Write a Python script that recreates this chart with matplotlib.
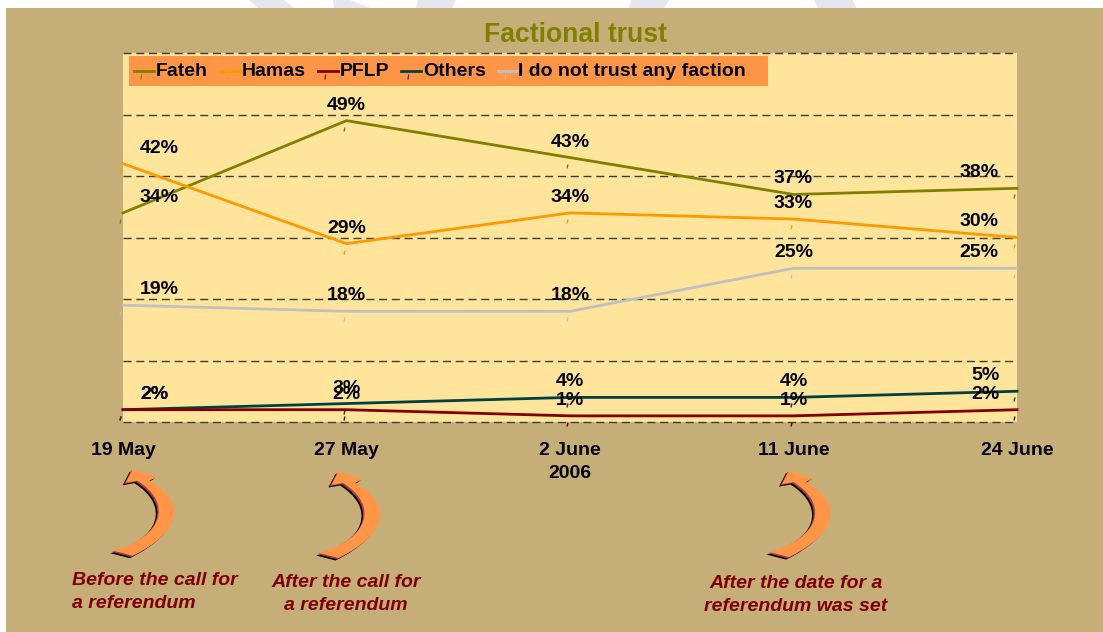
import numpy as np
import matplotlib
matplotlib.use("Agg")
import matplotlib.pyplot as plt
from matplotlib.patches import Polygon, Rectangle, PathPatch
from matplotlib.path import Path
from matplotlib.lines import Line2D
from matplotlib.transforms import Affine2D

plt.rcParams['font.family'] = ['Liberation Sans', 'DejaVu Sans']

W, H = 1103, 632

dates = ["19 May", "27 May", "2 June\n2006", "11 June", "24 June"]
series_names = ["Fateh", "Hamas", "PFLP", "Others", "I do not trust any faction"]
fateh = [34, 49, 43, 37, 38]
hamas = [42, 29, 34, 33, 30]
pflp = [2, 2, 1, 1, 2]
others = [2, 3, 4, 4, 5]
no_trust = [19, 18, 18, 25, 25]
series = [fateh, hamas, pflp, others, no_trust]
colors = ["#808000", "#FF9900", "#800000", "#004040", "#C0C0C0"]
notes = ["Before the call for\na referendum", "After the call for\na referendum",
         "After the date for a\nreferendum was set"]

BG = "#C6AE79"
PLOT_BG = "#FFE49C"
ORANGE = "#FF9647"

fig = plt.figure(figsize=(W / 100, H / 100), dpi=100, facecolor="white")

# background layer in pixels: panel and the faint watermark above it
back = fig.add_axes([0, 0, 1, 1], zorder=0)
back.set_xlim(0, W)
back.set_ylim(H, 0)
back.axis("off")
back.add_patch(Rectangle((6, 8), W - 6, H - 8, fc=BG, ec="none"))
for pts in [[(249, 0), (284, 0), (294, 8), (258, 8)],
            [(333, 0), (350, 0), (370, 8), (334, 8)],
            [(418, 0), (456, 0), (452, 8), (416, 8)],
            [(631, 0), (669, 0), (664, 8), (629, 8)],
            [(814, 0), (853, 0), (856, 8), (818, 8)]]:
    back.add_patch(Polygon(pts, fc="#E6E6F0", ec="none"))

ax = fig.add_axes([123 / W, 1 - 422 / H, (1017 - 123) / W, 369 / H], zorder=1)
ax.set_facecolor(PLOT_BG)
x = np.arange(len(dates))
ax.set_xlim(0, 4)
ax.set_ylim(0, 60)
ax.set_yticks(np.arange(0, 61, 10))
ax.set_xticks([])
ax.tick_params(left=False, labelleft=False)
for s in ax.spines.values():
    s.set_visible(False)
ax.grid(axis="y", color="#3c3c3c", linestyle=(0, (5.8, 3.4)), linewidth=1)
for g in ax.yaxis.get_gridlines():
    g.set_clip_on(False)
ax.set_axisbelow(True)

# the small slanted tick that sits under every point
tick_mark = Path([(-3.4, -10), (-2.6, -6)], [Path.MOVETO, Path.LINETO])

for vals, c in zip(series, colors):
    z = 4 if c == "#800000" else 3
    ax.plot(x, vals, color=c, linewidth=2, clip_on=False, zorder=z, solid_joinstyle="miter")
    ax.plot(x, vals, linestyle="none", marker=tick_mark, markersize=14.4, markerfacecolor="none",
            markeredgecolor=c, markeredgewidth=1, clip_on=False, zorder=z)

# data labels sit about 16 px above the point, the end ones are pushed inwards
for vals in series:
    for i, v in enumerate(vals):
        dx = 0
        if i == 0:
            dx = 36 if v >= 10 else 31
        if i == 4:
            dx = -38 if v >= 10 else -32
        ax.annotate(f"{v}%", xy=(i, v), xytext=(dx * 0.72, 15.5 * 0.72), textcoords="offset points",
                    ha="center", va="center", fontsize=14, fontweight="bold", color="black",
                    zorder=5, annotation_clip=False)

for xi, d in zip(x, dates):
    ax.annotate(d, xy=(xi, 0), xytext=(0, -14.5), textcoords="offset points", ha="center",
                va="top", fontsize=14, fontweight="bold", color="black",
                annotation_clip=False, linespacing=1.45)

# top layer in pixels: legend box, title, arrows and notes
over = fig.add_axes([0, 0, 1, 1], zorder=2)
over.set_xlim(0, W)
over.set_ylim(H, 0)
over.axis("off")
over.patch.set_visible(False)

over.add_patch(Rectangle((129, 56), 639, 30, fc=ORANGE, ec="none"))
leg_line_x = [(134, 154), (221, 240), (318, 338), (401, 421), (498, 517)]
leg_text_x = [156, 242, 340, 423, 518]
for (x0, x1), tx, name, c in zip(leg_line_x, leg_text_x, series_names, colors):
    over.add_line(Line2D([x0, x1], [71, 71], color=c, linewidth=2))
    over.add_line(Line2D([x0 + 7, x0 + 7.6], [79, 75], color=c, linewidth=0.8))
    over.text(tx, 72, name, ha="left", va="center", fontsize=14, fontweight="bold", color="black")

over.text(575, 35, "Factional trust", ha="center", va="center", fontsize=19.2,
          fontweight="bold", color="#808000")

# curved arrow outline, drawn three times with a shadow
arrow_verts = [(132.7, 469.3), (156.7, 476.7), (149.3, 480.7),
               (185, 500), (185, 530), (132.7, 555.7),
               (113.3, 550.7),
               (163.3, 536.7), (173.3, 503.3), (137.3, 480.7),
               (125.7, 482.7), (132.7, 469.3)]
arrow_codes = [Path.MOVETO, Path.LINETO, Path.LINETO,
               Path.CURVE4, Path.CURVE4, Path.CURVE4,
               Path.LINETO,
               Path.CURVE4, Path.CURVE4, Path.CURVE4,
               Path.LINETO, Path.CLOSEPOLY]
arrow = Path(arrow_verts, arrow_codes)
for dx, dy in [(0, 0), (205.7, 2.3), (656.3, 1.4)]:
    for sx, sy, fc in [(-3, 2.5, "black"), (-1.5, 1.2, "#B03A40"), (0, 0, ORANGE)]:
        tr = Affine2D().translate(dx + sx, dy + sy) + over.transData
        over.add_patch(PathPatch(arrow, fc=fc, ec="none", transform=tr))

note_pos = [(72, 592, "left"), (346, 594, "center"), (796, 595, "center")]
for (tx, ty, ha), n in zip(note_pos, notes):
    over.text(tx, ty, n, ha=ha, va="center", multialignment=ha, fontsize=14, fontweight="bold",
              fontstyle="italic", color="#800000", linespacing=1.5)

fig.savefig("out.png", dpi=100)
